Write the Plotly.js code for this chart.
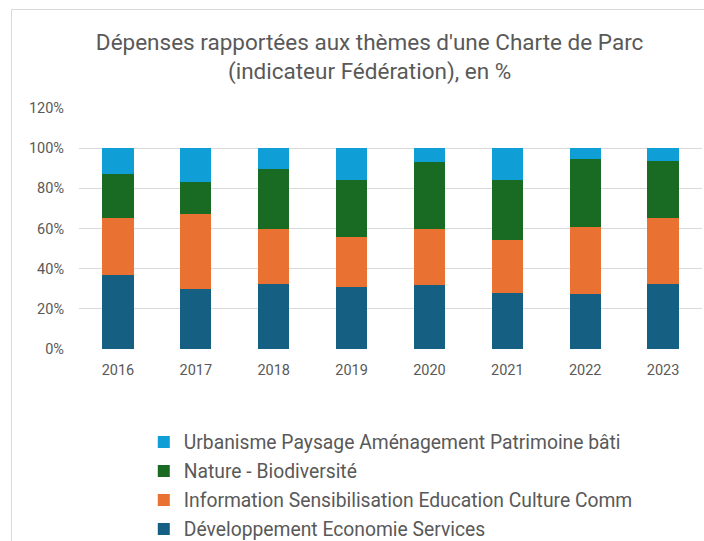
<!DOCTYPE html>
<html><head><meta charset="utf-8">
<script src="https://cdn.plot.ly/plotly-3.0.1.min.js"></script>
<style>html,body{margin:0;padding:0;background:#fff;overflow:hidden;}#wrap{position:relative;width:704px;height:541px;overflow:hidden;}#chart{width:704px;height:560px;}#frame{position:absolute;left:11px;top:9px;width:720px;height:560px;border:1px solid #d9d9d9;pointer-events:none;}</style>
</head><body><div id="wrap"><div id="chart"></div><div id="frame"></div></div>
<script>
const years = ['2016','2017','2018','2019','2020','2021','2022','2023'];
const devEco = [37.0, 30.0, 32.5, 30.7, 31.8, 28.0, 27.5, 32.2];
const infoSens = [28.2, 37.3, 27.1, 25.2, 28.2, 26.4, 33.2, 32.8];
const nature = [22.0, 16.0, 30.0, 28.3, 32.9, 29.8, 34.0, 28.7];
const urbanisme = [12.8, 16.7, 10.4, 15.8, 7.1, 15.8, 5.3, 6.3];
const seriesNames = ['Développement Economie Services','Information Sensibilisation Education Culture Comm','Nature - Biodiversité','Urbanisme Paysage Aménagement Patrimoine bâti'];
const seriesValues = [devEco, infoSens, nature, urbanisme];
const colors = ['#156082','#E97132','#196B24','#0F9ED5'];
const traces = seriesValues.map((v,i)=>({type:'bar',x:years,y:v.map(a=>a/100),name:seriesNames[i],legendgroup:'g'+i,legendrank:1000-i,marker:{color:colors[i],line:{width:0}},hoverinfo:'skip'}));
const H = 560;
const layout = {
  width:704,height:H,
  margin:{l:79,r:2,t:108,b:H-349},
  barmode:'stack',bargap:0.6,
  paper_bgcolor:'#fff',plot_bgcolor:'#fff',
  font:{family:'Roboto, "Liberation Sans", sans-serif',color:'#595959',size:14},
  title:{text:'Dépenses rapportées aux thèmes d\'une Charte de Parc<br>(indicateur Fédération), en %',font:{size:22.5,color:'#595959',family:'Roboto,sans-serif'},x:0.525,xanchor:'center',y:1-50/H,yanchor:'middle'},
  xaxis:{showgrid:false,showline:false,ticks:'',ticklabelstandoff:10,tickfont:{size:14.5,color:'#595959'},fixedrange:true,automargin:false},
  yaxis:{range:[0,1.2],dtick:0.2,tickformat:'.0%',showgrid:true,gridcolor:'#d9d9d9',zeroline:false,showline:false,ticks:'',ticklabelstandoff:14,tickfont:{size:14.5,color:'#595959'},fixedrange:true,automargin:false},
  legend:{orientation:'v',x:0.104,xanchor:'left',y:-0.3065,yanchor:'top',traceorder:'grouped',font:{size:19.3,color:'#595959'},itemwidth:30,tracegroupgap:0.9},
  showlegend:true
};
Plotly.newPlot('chart',traces,layout,{displayModeBar:false,staticPlot:true});
</script></body></html>
